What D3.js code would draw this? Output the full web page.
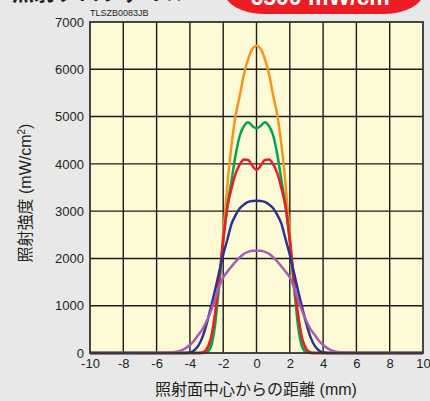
<!DOCTYPE html>
<html>
<head>
<meta charset="utf-8">
<script src="https://cdn.jsdelivr.net/npm/d3@7"></script>
<style>
  html, body { margin: 0; padding: 0; background: #e8e8e8; }
  svg { display: block; }
  text { font-family: "Liberation Sans", Arial, sans-serif; fill: #231f20; }
</style>
</head>
<body>
<svg id="chart" width="430" height="401"></svg>
<script>
// Distance from the irradiation centre (mm), shared by every series (right half; mirrored)
const halfPositions = [0, 0.25, 0.5, 0.75, 1, 1.25, 1.5, 1.75, 2, 2.25, 2.5, 2.75, 3, 3.25, 3.5, 3.75, 4, 4.5, 5, 5.5, 6, 7, 8, 10];

// Irradiance (mW/cm²) at each position
const orangeValues = [6500, 6430, 6220, 5900, 5450, 5030, 4400, 3550, 2520, 1380, 760, 250, 15, 0, 0, 0, 0, 0, 0, 0, 0, 0, 0, 0];
const greenValues  = [4750, 4800, 4880, 4800, 4600, 4200, 3650, 3100, 2350, 1420, 560, 120, 15, 0, 0, 0, 0, 0, 0, 0, 0, 0, 0, 0];
const redValues    = [3870, 3960, 4080, 4090, 3990, 3800, 3480, 3080, 2400, 1550, 800, 300, 80, 10, 0, 0, 0, 0, 0, 0, 0, 0, 0, 0];
const blueValues   = [3220, 3215, 3195, 3140, 3060, 2920, 2730, 2400, 2080, 1700, 1310, 950, 610, 330, 150, 55, 12, 0, 0, 0, 0, 0, 0, 0];
const purpleValues = [2165, 2160, 2140, 2100, 2025, 1935, 1830, 1720, 1600, 1400, 1120, 880, 670, 500, 380, 260, 170, 55, 15, 5, 0, 0, 0, 0];

const seriesList = [
  { name: "orange", color: "#f7931e", values: orangeValues },
  { name: "green",  color: "#00a651", values: greenValues },
  { name: "red",    color: "#ed1c24", values: redValues },
  { name: "blue",   color: "#2e3192", values: blueValues },
  { name: "purple", color: "#a35db1", values: purpleValues }
];

const xTicks = [-10, -8, -6, -4, -2, 0, 2, 4, 6, 8, 10];
const yTicks = [0, 1000, 2000, 3000, 4000, 5000, 6000, 7000];

const svg = d3.select("#chart");
const plot = { left: 90, right: 423, top: 22, bottom: 353 };

const x = d3.scaleLinear().domain([-10, 10]).range([plot.left, plot.right]);
const y = d3.scaleLinear().domain([0, 7000]).range([plot.bottom, plot.top]);

const cjk = "'Liberation Sans', 'Noto Sans CJK JP', sans-serif";

// Header: title and peak badge, running off the top edge
svg.append("text")
  .attr("x", 12).attr("y", 0)
  .style("font-size", "22px").style("font-weight", "bold")
  .style("font-family", cjk)
  .text("照射プロファイル");

svg.append("rect")
  .attr("x", 224).attr("y", -32).attr("width", 200).attr("height", 46)
  .attr("rx", 40).attr("ry", 23)
  .attr("fill", "#ed1c24");
svg.append("text")
  .attr("x", 324).attr("y", 5)
  .attr("text-anchor", "middle")
  .style("font-size", "23px").style("font-weight", "bold").style("fill", "#ffffff")
  .html("6500 mW/cm<tspan dy='-8' font-size='14px'>2</tspan>");

svg.append("text")
  .attr("x", 90).attr("y", 16)
  .style("font-size", "9px")
  .text("TLSZB0083JB");

// Plot background
svg.append("rect")
  .attr("x", plot.left).attr("y", plot.top)
  .attr("width", plot.right - plot.left).attr("height", plot.bottom - plot.top)
  .attr("fill", "#fffad6");

// Grid
svg.append("g").selectAll("line").data(xTicks.slice(1, -1)).join("line")
  .attr("x1", d => x(d)).attr("x2", d => x(d))
  .attr("y1", plot.top).attr("y2", plot.bottom)
  .attr("stroke", "#1a1a1a").attr("stroke-width", 1.4);
svg.append("g").selectAll("line").data(yTicks.slice(1, -1)).join("line")
  .attr("x1", plot.left).attr("x2", plot.right)
  .attr("y1", d => y(d)).attr("y2", d => y(d))
  .attr("stroke", "#1a1a1a").attr("stroke-width", 1.4);

// Axes (labels only; frame drawn separately)
const xAxis = svg.append("g")
  .attr("transform", `translate(0,${plot.bottom})`)
  .call(d3.axisBottom(x).tickValues(xTicks).tickSize(0).tickPadding(6).tickFormat(d => String(d)));
const yAxis = svg.append("g")
  .attr("transform", `translate(${plot.left},0)`)
  .call(d3.axisLeft(y).tickValues(yTicks).tickSize(0).tickPadding(6).tickFormat(d => String(d)));
[xAxis, yAxis].forEach(a => {
  a.select(".domain").remove();
  a.selectAll("text")
    .style("font-size", "13px")
    .style("font-family", "'Liberation Sans', Arial, sans-serif")
    .attr("fill", "#231f20");
});

// Curves, mirrored about the centre
const line = d3.line()
  .x(d => x(d[0])).y(d => y(d[1]))
  .curve(d3.curveMonotoneX);

seriesList.forEach(s => {
  const right = halfPositions.map((p, i) => [p, s.values[i]]);
  const left = right.slice(1).map(([p, v]) => [-p, v]).reverse();
  svg.append("path")
    .datum(left.concat(right))
    .attr("fill", "none")
    .attr("stroke", s.color)
    .attr("stroke-width", 2.5)
    .attr("stroke-linejoin", "round")
    .attr("d", line);
});

// Frame
svg.append("rect")
  .attr("x", plot.left).attr("y", plot.top)
  .attr("width", plot.right - plot.left).attr("height", plot.bottom - plot.top)
  .attr("fill", "none").attr("stroke", "#333").attr("stroke-width", 1.8);

// Axis titles
svg.append("text")
  .attr("x", 256).attr("y", 395)
  .attr("text-anchor", "middle")
  .style("font-size", "16px")
  .style("font-family", cjk)
  .text("照射面中心からの距離 (mm)");

svg.append("text")
  .attr("transform", "translate(31,193) rotate(-90)")
  .attr("text-anchor", "middle")
  .style("font-size", "16px")
  .style("font-family", cjk)
  .html("照射強度 (mW/cm<tspan dy='-6' font-size='10px'>2</tspan><tspan dy='6'>)</tspan>");
</script>
</body>
</html>
